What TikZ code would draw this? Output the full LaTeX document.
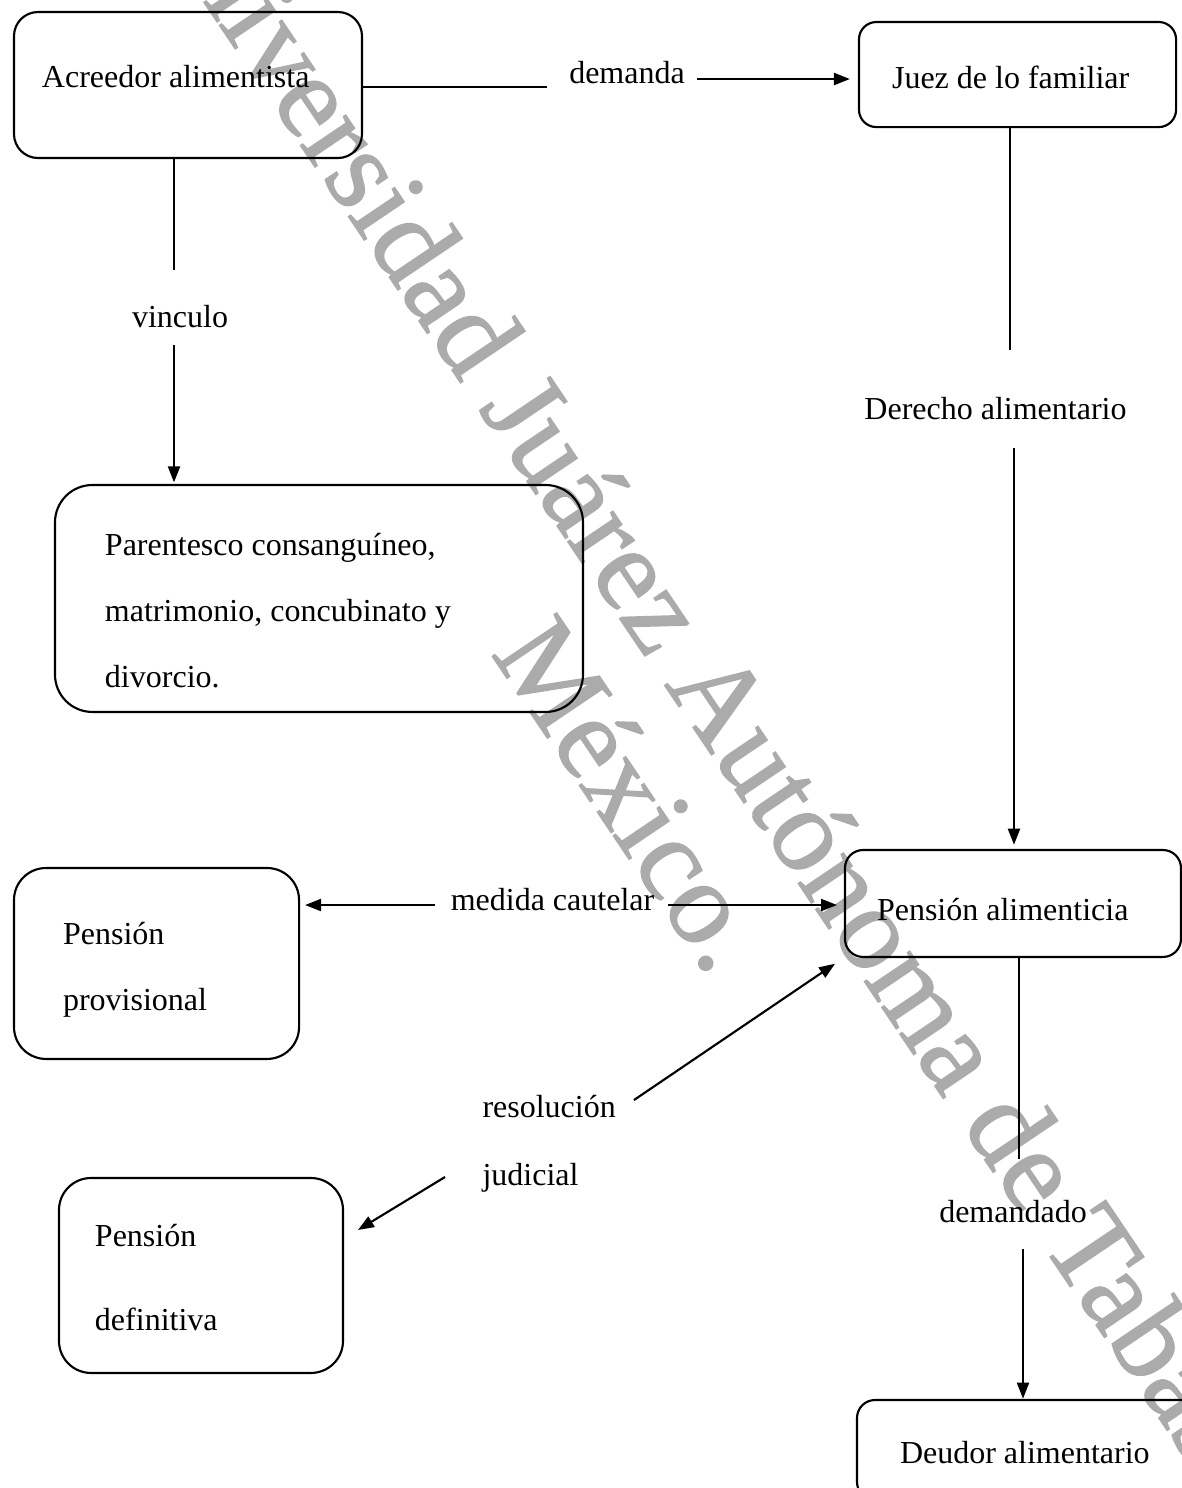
\documentclass[tikz,border=0pt]{standalone}
\usepackage{fontspec}
\setmainfont{Liberation Serif}
\newfontfamily\marcafont{Liberation Serif}[FakeBold=1.2]
\usetikzlibrary{positioning,arrows.meta}

\tikzset{
  caja/.style={draw, line width=0.8pt, rounded corners=#1, inner sep=0pt, outer sep=0pt,
    anchor=north west, align=flush left, font=\fontsize{12pt}{24.75pt}\selectfont},
  caja/.default=9pt,
  linea/.style={line width=0.4pt},
  flecha/.style={line width=0.8pt, -{Triangle[length=6pt,width=4.5pt]}},
  texto/.style={inner sep=0pt, anchor=base, font=\fontsize{12pt}{25.5pt}\selectfont},
  marca/.style={text=black!33, rotate=-56, align=flush center, inner sep=0pt,
    font=\marcafont\fontsize{44.5pt}{47.5pt}\selectfont}
}

\begin{document}
\begin{tikzpicture}[x=0.375pt, y=-0.375pt]
    \useasboundingbox (0,0) rectangle (1182,1488);

    % marca de agua
    \node [marca] (marca) at (686,758) {Universidad Juárez Autónoma de Tabasco.\\México.};

    % cajas
    \node [caja=9pt, minimum width=130.5pt, minimum height=54.75pt, text width=109.5pt, text height=1.5pt, text depth=0pt] (acre) at (14,12) {Acreedor alimentista};
    \node [caja=6.5pt, minimum width=118.9pt, minimum height=39.4pt, text width=94.1pt, text height=10.1pt, text depth=0pt] (juez) at (859,22) {Juez de lo familiar};
    \node [caja=14pt, minimum width=198pt, minimum height=85.1pt, text width=160.5pt, text height=0pt, text depth=31.9pt] (paren) at (55,485) {Parentesco consanguíneo,\\matrimonio, concubinato y\\divorcio.};
    \node [caja=6.75pt, minimum width=126pt, minimum height=40.1pt, text width=102pt, text height=12.4pt, text depth=0pt] (alim) at (845,850) {Pensión alimenticia};
    \node [caja=12pt, minimum width=106.9pt, minimum height=71.6pt, text width=70.1pt, text height=0pt, text depth=14.6pt] (prov) at (14,868) {Pensión\\provisional};
    \node [caja=12pt, minimum width=106.5pt, minimum height=73.1pt, text width=79.5pt, text height=0pt, text depth=22.1pt, font=\fontsize{12pt}{31.5pt}\selectfont] (defi) at (59,1178) {Pensión\\definitiva};
    \node [caja=6.75pt, minimum width=129.75pt, minimum height=37.5pt, text width=97.5pt, text height=9.75pt, text depth=0pt] (deud) at (857,1400) {Deudor alimentario};

    % etiquetas
    \node [texto] (dem) at (627,83) {demanda};
    \node [texto] (vinc) at (180,327) {vinculo};
    \node [texto] (der) at (995.5,419) {Derecho alimentario};
    \node [texto] (med) at (552.5,910) {medida cautelar};
    \node [texto, anchor=base west, align=flush left] (reso) at (482,1185) {resolución\\judicial};
    \node [texto] (ddo) at (1013,1222) {demandado};

    % extremos libres
    \coordinate (demA) at (547,87);
    \coordinate (demB) at (697,79);
    \coordinate (vincA) at (174,270);
    \coordinate (vincB) at (174,345);
    \coordinate (derA) at (1010,350);
    \coordinate (derB) at (1014,448);
    \coordinate (medA) at (435,905);
    \coordinate (medB) at (668,905);
    \coordinate (resA) at (634,1100);
    \coordinate (resB) at (445,1177);
    \coordinate (ddoA) at (1019,1159);
    \coordinate (ddoB) at (1023,1249);

    % conectores
    \draw [linea] (acre.east |- demA) -- (demA);
    \draw [flecha, shorten >=3.4pt] (demB) -- (demB -| juez.west);
    \draw [linea] (vincA |- acre.south) -- (vincA);
    \draw [flecha, shorten >=1pt] (vincB) -- (vincB |- paren.north);
    \draw [linea] (derA |- juez.south) -- (derA);
    \draw [flecha, shorten >=2pt] (derB) -- (derB |- alim.north);
    \draw [flecha, shorten >=2.25pt] (medA) -- (medA -| prov.east);
    \draw [flecha, shorten >=3pt] (medB) -- (medB -| alim.west);
    \draw [flecha, shorten >=4.5pt] (resA) -- (alim.south west);
    \draw [flecha] (resB) -- ([xshift=5.6pt, yshift=-19.5pt]defi.north east);
    \draw [linea] (ddoA |- alim.south) -- (ddoA);
    \draw [flecha, shorten >=0.5pt] (ddoB) -- (ddoB |- deud.north);
\end{tikzpicture}
\end{document}
